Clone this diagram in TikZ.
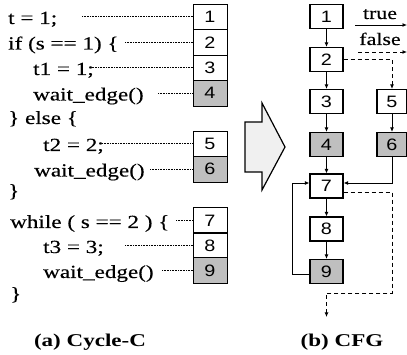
\documentclass[tikz,border=0pt]{standalone}
\usepackage{fontspec}
\setmainfont[FakeStretch=1.25,FakeBold=0.3]{Liberation Serif}
\newfontfamily\capfont[FakeStretch=1.28]{Liberation Serif}
\newfontfamily\boxfont[FakeStretch=1.2]{Liberation Sans}
\usetikzlibrary{arrows.meta,calc}
\begin{document}
\begin{tikzpicture}[x=1pt,y=-1pt,
  code/.style={anchor=base west, inner sep=0pt, font=\fontsize{18.5}{20}\selectfont},
  capt/.style={anchor=base, inner sep=0pt, font=\capfont\bfseries\fontsize{18}{20}\selectfont},
  legendtext/.style={anchor=base, inner sep=0pt, font=\fontsize{17.5}{20}\selectfont},
  lbox/.style={draw, line width=0.9pt, minimum width=34pt, minimum height=25.5pt, inner sep=0pt, font=\boxfont\fontsize{16.5}{18}\selectfont},
  cbox/.style={draw, line width=1.1pt, minimum width=33pt, minimum height=24pt, inner sep=0pt, font=\boxfont\fontsize{16.5}{18}\selectfont},
  shaded/.style={fill=gray!50},
  leader/.style={densely dotted, line width=0.6pt},
  flow/.style={line width=0.9pt, -{Latex[length=4.5pt,width=4pt]}},
  alt/.style={flow, dash pattern=on 4pt off 3pt},
  bigarrow/.style={line width=1.2pt, fill=gray!12, line join=miter}
]
\useasboundingbox (0,0) rectangle (407,355);

% ---- code ----
\node[code] (c1)  at (8,24)   {t = 1;};
\node[code] (c2)  at (8,49.5)   {if (s == 1) \{};
\node[code] (c3)  at (33,75)  {t1 = 1;};
\node[code] (c4)  at (33,100.5) {wait\_edge()};
\node[code] (c5)  at (8,124)     {\} else \{};
\node[code] (c6)  at (43,151) {t2 = 2;};
\node[code] (c7)  at (34,176.5) {wait\_edge()};
\node[code] (c8)  at (8,197)     {\}};
\node[code] (c9)  at (10,228)  {while ( s == 2 ) \{};
\node[code] (c10) at (43,253)  {t3 = 3;};
\node[code] (c11) at (43,278)  {wait\_edge()};
\node[code] (c12) at (10,300)    {\}};

% ---- left boxes ----
\node[lbox] (L1) at (210,16.75) {1};
\node[lbox] (L2) at (210,42.25) {2};
\node[lbox] (L3) at (210,67.75) {3};
\node[lbox,shaded] (L4) at (210,93.25) {4};
\node[lbox] (L5) at (210,143.75) {5};
\node[lbox,shaded] (L6) at (210,169.25) {6};
\node[lbox] (L7) at (210,220.5) {7};
\node[lbox] (L8) at (210,245.5) {8};
\node[lbox,shaded] (L9) at (210,270.5) {9};

% ---- leaders ----
\coordinate (s1) at (82,16.75);
\coordinate (s2) at (125,42.25);
\coordinate (s3) at (90,67.75);
\coordinate (s4) at (158,93.25);
\coordinate (s5) at (102,143.75);
\coordinate (s6) at (150,169.25);
\coordinate (s7) at (176,220.5);
\coordinate (s8) at (125,245.5);
\coordinate (s9) at (162,270.5);
\draw[leader] (s1) -- (L1.west);
\draw[leader] (s2) -- (L2.west);
\draw[leader] (s3) -- (L3.west);
\draw[leader] (s4) -- (L4.west);
\draw[leader] (s5) -- (L5.west);
\draw[leader] (s6) -- (L6.west);
\draw[leader] (s7) -- (L7.west);
\draw[leader] (s8) -- (L8.west);
\draw[leader] (s9) -- (L9.west);

% ---- big arrow ----
\draw[bigarrow] (245,122) -- (262,122) -- (262,103) -- (285,147) -- (262,190) -- (262,172) -- (245,172) -- cycle;

% ---- CFG ----
\node[cbox] (n1) at (326.5,16.5) {1};
\node[cbox] (n2) at (326.5,59.5) {2};
\node[cbox] (n3) at (326.5,101.5) {3};
\node[cbox,shaded] (n4) at (326.5,144.5) {4};
\node[cbox,minimum width=30pt] (n5) at (392,101.5) {5};
\node[cbox,shaded,minimum width=30pt] (n6) at (392,144.5) {6};
\node[cbox] (n7) at (326.5,186) {7};
\node[cbox] (n8) at (326.5,229) {8};
\node[cbox,shaded] (n9) at (326.5,271.5) {9};

\draw[flow] (n1) -- (n2);
\draw[flow] (n2) -- (n3);
\draw[flow] (n3) -- (n4);
\draw[flow] (n4) -- (n7);
\draw[flow] (n7) -- (n8);
\draw[flow] (n8) -- (n9);
\draw[flow] (n5) -- (n6);
\draw[alt] (n2.east) -| (n5.north);
\draw[flow] (n6.south) |- ($(n7.east)+(0,-3)$);
\draw[flow] ($(n9.west)+(0,3)$) -- ++(-17,0) |- ($(n7.west)+(0,-3)$);
\coordinate (exit) at (326.5,317);
\draw[alt] ($(n7.east)+(0,6)$) -| (392,293) -| (exit);

% ---- legend ----
\node[legendtext] (lt) at (380,19) {true};
\node[legendtext] (lf) at (380,45) {false};
\coordinate (ta) at (355,25);
\coordinate (tb) at (407,25);
\coordinate (fa) at (358,52);
\coordinate (fb) at (407,52);
\draw[flow] (ta) -- (tb);
\draw[alt] (fa) -- (fb);

% ---- captions ----
\node[capt] (capa) at (90,347) {(a) Cycle-C};
\node[capt] (capb) at (342,347) {(b) CFG};
\end{tikzpicture}
\end{document}
